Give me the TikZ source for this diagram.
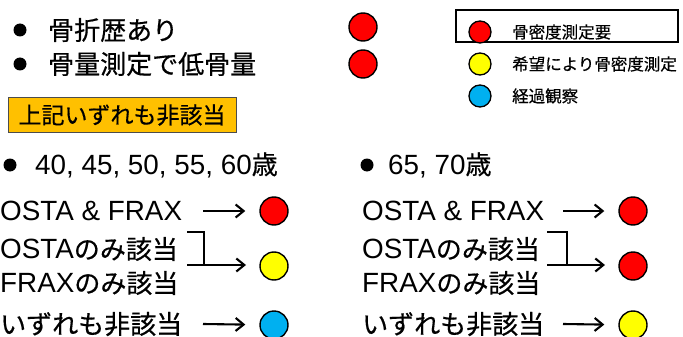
\documentclass[tikz,border=0pt]{standalone}
\usepackage{fontspec}
\setmainfont{Liberation Sans}[Scale=1.07]
\newfontfamily\jp{Noto Sans CJK JP}[FakeBold=0.5]
\usetikzlibrary{arrows.meta}
\definecolor{cred}{HTML}{FF0000}
\definecolor{cyel}{HTML}{FFFF00}
\definecolor{cblue}{HTML}{00B0F0}
\definecolor{corange}{HTML}{FFC000}
\tikzset{
  txt/.style={anchor=west, inner sep=0pt, font=\fontsize{26}{30}\selectfont},
  lgtxt/.style={anchor=west, inner sep=0pt, font=\jp\fontsize{16.5}{20}\selectfont},
  dotc/.style={circle, fill=black, inner sep=0pt, minimum size=13pt},
  bigc/.style={circle, draw=black, line width=1.4pt, inner sep=0pt, minimum size=28pt},
  smc/.style={circle, draw=black, line width=1.3pt, inner sep=0pt, minimum size=22pt},
  arr/.style={line width=2.1pt, -{Straight Barb[length=8pt,width=13pt]}},
  brk/.style={line width=2.1pt},
}
\begin{document}
\begin{tikzpicture}[x=1pt,y=-1pt]
\useasboundingbox (0,0) rectangle (683,337);
\clip (0,0) rectangle (683,337);
% top bullets
\node[dotc] (d1) at (20,30) {};
\node[txt] (t1) at (48,30) {\jp 骨折歴あり};
\node[dotc] (d2) at (20,64) {};
\node[txt] (t2) at (48,64) {\jp 骨量測定で低骨量};
\node[bigc, fill=cred] (c1) at (363,27) {};
\node[bigc, fill=cred] (c2) at (363,64) {};
% orange box
\node[draw=black!70, line width=0.8pt, fill=corange, minimum width=228pt, minimum height=35pt, inner sep=0pt, font=\jp\fontsize{23}{26}\selectfont] (ob) at (122,115) {上記いずれも非該当};
% legend
\draw[line width=2pt] (456,10) rectangle (678,42);
\node[smc, fill=cred] (l1) at (480,32) {};
\node[lgtxt] (lt1) at (512,32) {骨密度測定要};
\node[smc, fill=cyel] (l2) at (480,64) {};
\node[lgtxt] (lt2) at (512,64) {希望により骨密度測定};
\node[smc, fill=cblue] (l3) at (480,96) {};
\node[lgtxt] (lt3) at (512,96) {経過観察};
% left column
\node[dotc] (d3) at (10,165) {};
\node[txt] (h1) at (35,165) {40, 45, 50, 55, 60{\jp 歳}};
\node[txt] (a1) at (0,211) {OSTA \& FRAX};
\node[txt] (a2) at (0,249) {OSTA{\jp のみ該当}};
\node[txt] (a3) at (0,283) {FRAX{\jp のみ該当}};
\node[txt] (a4) at (0,324) {\jp いずれも非該当};
\node[bigc, fill=cred] (ac1) at (274,211) {};
\node[bigc, fill=cyel] (ac2) at (274,266) {};
\node[bigc, fill=cblue] (ac3) at (274,325) {};
\coordinate (as1) at (203,211);
\coordinate (as3) at (203,324);
\coordinate (ab1) at (187,232);
\coordinate (ab2) at (204,265);
\coordinate (ab3) at (187,265);
\draw[arr, shorten >=14pt] (as1) -- (ac1);
\draw[arr, shorten >=14pt] (as3) -- (ac3);
\draw[brk] (ab1) -| (ab2);
\draw[arr, shorten >=28pt] (ab3) -- (ac2.center |- ab3);
% right column
\node[dotc] (d4) at (367,165) {};
\node[txt] (h2) at (388,165) {65, 70{\jp 歳}};
\node[txt] (b1) at (362,211) {OSTA \& FRAX};
\node[txt] (b2) at (362,249) {OSTA{\jp のみ該当}};
\node[txt] (b3) at (362,283) {FRAX{\jp のみ該当}};
\node[txt] (b4) at (362,324) {\jp いずれも非該当};
\node[bigc, fill=cred] (bc1) at (633,211) {};
\node[bigc, fill=cred] (bc2) at (633,266) {};
\node[bigc, fill=cyel] (bc3) at (633,325) {};
\coordinate (bs1) at (563,211);
\coordinate (bs3) at (563,324);
\coordinate (bb1) at (547,232);
\coordinate (bb2) at (567,265);
\coordinate (bb3) at (547,265);
\draw[arr, shorten >=14pt] (bs1) -- (bc1);
\draw[arr, shorten >=14pt] (bs3) -- (bc3);
\draw[brk] (bb1) -| (bb2);
\draw[arr, shorten >=28pt] (bb3) -- (bc2.center |- bb3);
\end{tikzpicture}
\end{document}
